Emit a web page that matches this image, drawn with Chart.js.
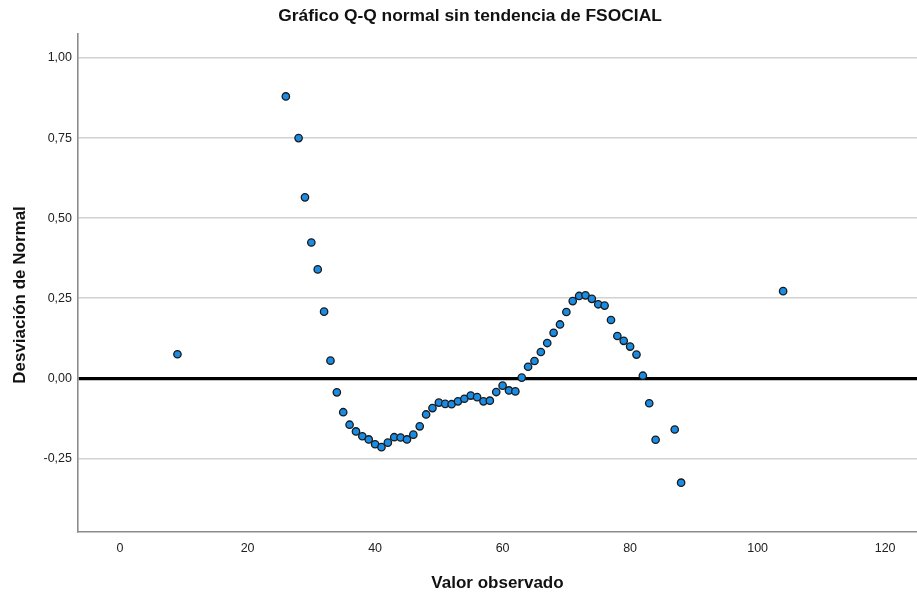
<!DOCTYPE html>
<html>
<head>
<meta charset="utf-8">
<script src="https://cdn.jsdelivr.net/npm/chart.js@4/dist/chart.umd.min.js"></script>
<style>
  html, body { margin: 0; padding: 0; background: #fff; overflow: hidden; }
  canvas { display: block; }
</style>
</head>
<body>
<canvas id="qq" width="917" height="594"></canvas>
<script>
// valores observados de FSOCIAL (eje X)
const observedValues = [9, 26, 28, 29, 30, 31, 32, 33, 34, 35, 36, 37, 38, 39, 40, 41, 42, 43, 44, 45,
  46, 47, 48, 49, 50, 51, 52, 53, 54, 55, 56, 57, 58, 59, 60, 61, 62, 63, 64, 65,
  66, 67, 68, 69, 70, 71, 72, 73, 74, 75, 76, 77, 78, 79, 80, 81, 82, 83, 84, 87, 88, 104];

// desviación de normal (eje Y)
const deviations = [0.075, 0.880, 0.750, 0.565, 0.424, 0.340, 0.208, 0.055, -0.044, -0.106,
  -0.145, -0.166, -0.181, -0.191, -0.206, -0.215, -0.201, -0.184, -0.185, -0.191,
  -0.176, -0.150, -0.113, -0.093, -0.076, -0.080, -0.081, -0.072, -0.064, -0.054,
  -0.059, -0.072, -0.070, -0.043, -0.023, -0.038, -0.041, 0.002, 0.036, 0.054,
  0.082, 0.110, 0.142, 0.168, 0.207, 0.241, 0.257, 0.259, 0.248, 0.231,
  0.227, 0.182, 0.132, 0.117, 0.099, 0.074, 0.008, -0.078, -0.192, -0.160, -0.326, 0.272];

const xTickValues = [0, 20, 40, 60, 80, 100, 120];
const yTickValues = [-0.25, 0, 0.25, 0.5, 0.75, 1.0];

const chartTitle = "Gráfico Q-Q normal sin tendencia de FSOCIAL";
const xTitle = "Valor observado";
const yTitle = "Desviación de Normal";

const FONT = "'Liberation Sans', Arial, sans-serif";

const points = observedValues.map((x, i) => ({ x: x, y: deviations[i] }));

// título y rótulo Y dibujados a mano para ubicarlos como en SPSS
const titlePlugin = {
  id: "spssTitle",
  afterDraw(chart) {
    const ctx = chart.ctx;
    ctx.save();
    ctx.fillStyle = "#111";
    ctx.textAlign = "center";
    ctx.textBaseline = "middle";
    ctx.font = "bold 17.4px " + FONT;
    ctx.fillText(chartTitle, 470, 16);
    ctx.translate(20, 295);
    ctx.rotate(-Math.PI / 2);
    ctx.font = "bold 17px " + FONT;
    ctx.fillText(yTitle, 0, 0);
    ctx.restore();
  }
};

new Chart(document.getElementById("qq"), {
  type: "scatter",
  data: {
    datasets: [{
      data: points,
      backgroundColor: "#1b8ce3",
      borderColor: "#1a1a1a",
      borderWidth: 1.3,
      pointRadius: 3.7,
      pointHoverRadius: 3.7
    }]
  },
  options: {
    responsive: false,
    maintainAspectRatio: false,
    devicePixelRatio: 1,
    animation: false,
    layout: { autoPadding: false, padding: { top: 34, left: 0, right: 0, bottom: 0 } },
    plugins: {
      legend: { display: false },
      tooltip: { enabled: false },
      title: { display: false }
    },
    scales: {
      x: {
        type: "linear",
        min: -6.6,
        max: 125,
        afterBuildTicks: (scale) => { scale.ticks = xTickValues.map(v => ({ value: v })); },
        afterFit: (scale) => {
          scale.height = 62;
          scale.paddingLeft = 0;
          scale.paddingRight = 0;
        },
        grid: { display: false, drawTicks: false },
        border: { display: true, color: "#8c8c8c", width: 1.6 },
        ticks: {
          padding: 9,
          color: "#222",
          font: { family: FONT, size: 12.5 },
          callback: (v) => String(v)
        },
        title: {
          display: true,
          text: xTitle,
          color: "#111",
          font: { family: FONT, size: 17, weight: "bold" },
          padding: { top: 0, bottom: 0 }
        }
      },
      y: {
        type: "linear",
        min: -0.48,
        max: 1.075,
        afterBuildTicks: (scale) => { scale.ticks = yTickValues.map(v => ({ value: v })); },
        afterFit: (scale) => {
          scale.width = 78;
          scale.paddingTop = 0;
          scale.paddingBottom = 0;
        },
        grid: {
          drawTicks: false,
          color: (c) => (c.tick && c.tick.value === 0 ? "#000" : "#d2d2d2"),
          lineWidth: (c) => (c.tick && c.tick.value === 0 ? 3.2 : 1.5)
        },
        border: { display: true, color: "#8c8c8c", width: 1.6 },
        ticks: {
          padding: 6,
          color: "#222",
          font: { family: FONT, size: 12.5 },
          callback: (v) => v.toFixed(2).replace(".", ",")
        },
        title: { display: false }
      }
    }
  },
  plugins: [titlePlugin]
});
</script>
</body>
</html>
